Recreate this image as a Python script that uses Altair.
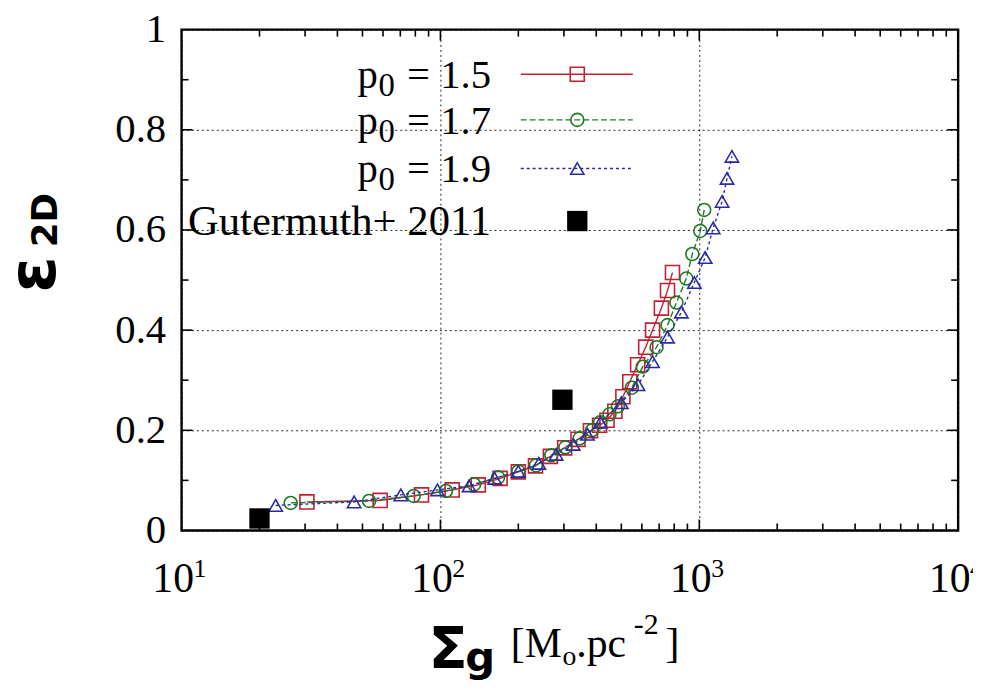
import altair as alt
import pandas as pd

# ---------------- data ----------------
red_x = [30.5, 58.5, 84.5, 111, 140, 170, 200, 233, 266, 302, 340, 380, 412, 440, 472, 507, 539, 578, 621, 660, 714, 754, 788]
red_y = [0.057, 0.060, 0.071, 0.081, 0.091, 0.104, 0.117, 0.129, 0.148, 0.165, 0.182, 0.199, 0.210, 0.220, 0.238, 0.267, 0.297, 0.331, 0.366, 0.400, 0.444, 0.479, 0.515]

green_x = [26.4, 53, 78.8, 105, 135, 167, 200, 234, 268, 304, 345, 385, 414, 450, 485, 549, 605, 684, 754, 816, 891, 940, 1009, 1045]
green_y = [0.055, 0.059, 0.069, 0.079, 0.092, 0.106, 0.118, 0.130, 0.150, 0.166, 0.184, 0.200, 0.216, 0.232, 0.248, 0.285, 0.327, 0.366, 0.410, 0.455, 0.503, 0.552, 0.598, 0.640]

blue_x = [23.1, 46.4, 70.3, 97.4, 129, 162, 200, 240, 280, 326, 370, 415, 500, 580, 660, 754, 853, 957, 1054, 1132, 1225, 1280, 1337]
blue_y = [0.050, 0.057, 0.071, 0.081, 0.089, 0.104, 0.118, 0.134, 0.152, 0.172, 0.192, 0.216, 0.255, 0.291, 0.337, 0.386, 0.436, 0.495, 0.545, 0.604, 0.657, 0.703, 0.747]

obs_x = [20, 296]
obs_y = [0.024, 0.261]

series_labels = ["1.5", "1.7", "1.9"]
obs_label = "Gutermuth+ 2011"

x_ticks = [10, 100, 1000, 10000]
x_exponents = ["1", "2", "3", "4"]
y_ticks = [0, 0.2, 0.4, 0.6, 0.8, 1.0]
x_minor = [20, 30, 40, 50, 60, 70, 80, 90, 200, 300, 400, 500, 600, 700, 800, 900,
           2000, 3000, 4000, 5000, 6000, 7000, 8000, 9000]
y_minor = [0.1, 0.3, 0.5, 0.7, 0.9]

# ---------------- layout / style ----------------
W, H = 783, 505
SERIF = "Liberation Serif"
SANS = "DejaVu Sans"

xscale = alt.Scale(type="log", domain=[10, 10000], nice=False)
yscale = alt.Scale(domain=[0, 1], nice=False)

grid_dash = [2, 3]
x_axis = alt.Axis(values=x_ticks, title=None, ticks=False, domain=False,
                  labelExpr="'10'",
                  labelFont=SERIF, labelFontSize=42, labelColor="black", labelPadding=29,
                  labelOffset=-9,
                  labelFlush=False, labelOverlap=False, labelBound=False,
                  grid=True, gridColor="black", gridDash=grid_dash, gridWidth=1, gridOpacity=0.85)
y_axis = alt.Axis(values=y_ticks, title=None, ticks=False, domain=False,
                  labelExpr="datum.value == 0 ? '0' : datum.value == 1 ? '1' : format(datum.value, '.1f')",
                  labelFont=SERIF, labelFontSize=41, labelColor="black", labelPadding=16,
                  labelOverlap=False, labelBound=False,
                  grid=True, gridColor="black", gridDash=grid_dash, gridWidth=1, gridOpacity=0.85)


def X():
    return alt.X("sigma:Q", scale=xscale, axis=x_axis)


def Y():
    return alt.Y("eps:Q", scale=yscale, axis=y_axis)


styles = [
    dict(color="#c41f33", dash=[1, 0], shape="square", size=200),
    dict(color="#1e7a22", dash=[6, 3], shape="circle", size=170),
    dict(color="#2a2aa8", dash=[3, 3], shape="triangle-up", size=180),
]
series_data = [(red_x, red_y), (green_x, green_y), (blue_x, blue_y)]

layers = []
for (xs, ys), st in zip(series_data, styles):
    d = pd.DataFrame({"sigma": xs, "eps": ys})
    base = alt.Chart(d).encode(x=X(), y=Y())
    layers.append(base.mark_line(color=st["color"], strokeDash=st["dash"], strokeWidth=1.4))
    layers.append(base.mark_point(shape=st["shape"], filled=False, color=st["color"],
                                  size=st["size"], strokeWidth=1.6, opacity=1))

obs = pd.DataFrame({"sigma": obs_x, "eps": obs_y})
layers.append(alt.Chart(obs).mark_point(shape="square", filled=True, color="black", size=420, opacity=1)
              .encode(x=X(), y=Y()))

# superscript exponents of the x tick labels
sup = pd.DataFrame({"sigma": x_ticks, "e": x_exponents})
layers.append(alt.Chart(sup).mark_text(font=SERIF, fontSize=26, align="left", baseline="alphabetic",
                                       dx=12, color="black")
              .encode(x=X(), y=alt.value(H + 47), text="e:N"))

# inward ticks on all four sides
xt = pd.DataFrame({"sigma": x_minor})
xt_major = pd.DataFrame({"sigma": [100, 1000]})
for dd, ln in [(xt, 7), (xt_major, 11)]:
    layers.append(alt.Chart(dd).mark_rule(color="black", strokeWidth=1.6)
                  .encode(x=X(), y=alt.value(H), y2=alt.value(H - ln)))
    layers.append(alt.Chart(dd).mark_rule(color="black", strokeWidth=1.6)
                  .encode(x=X(), y=alt.value(0), y2=alt.value(ln)))
yt = pd.DataFrame({"eps": y_minor})
yt_major = pd.DataFrame({"eps": [0.2, 0.4, 0.6, 0.8]})
for dd, ln in [(yt, 7), (yt_major, 11)]:
    layers.append(alt.Chart(dd).mark_rule(color="black", strokeWidth=1.6)
                  .encode(y=Y(), x=alt.value(0), x2=alt.value(ln)))
    layers.append(alt.Chart(dd).mark_rule(color="black", strokeWidth=1.6)
                  .encode(y=Y(), x=alt.value(W), x2=alt.value(W - ln)))

# ---------------- manual legend ----------------
one = pd.DataFrame({"a": [0]})
row_y = [45, 91, 140, 193]
txt_right = 312
sym_x = 399
line_x0, line_x1 = 342, 455
for i, (lab, st) in enumerate(zip(series_labels, styles)):
    ry = row_y[i]
    layers.append(alt.Chart(one).mark_rule(color=st["color"], strokeDash=st["dash"], strokeWidth=1.4)
                  .encode(x=alt.value(line_x0), x2=alt.value(line_x1), y=alt.value(ry)))
    layers.append(alt.Chart(one).mark_point(shape=st["shape"], filled=False, color=st["color"],
                                            size=st["size"], strokeWidth=1.6, opacity=1)
                  .encode(x=alt.value(sym_x), y=alt.value(ry)))
    layers.append(alt.Chart(one).mark_text(text="= " + lab, font=SERIF, fontSize=41, align="right",
                                           baseline="alphabetic", color="black")
                  .encode(x=alt.value(txt_right), y=alt.value(ry + 14)))
    layers.append(alt.Chart(one).mark_text(text="0", font=SERIF, fontSize=33, align="right",
                                           baseline="alphabetic", color="black")
                  .encode(x=alt.value(txt_right - 97), y=alt.value(ry + 22)))
    layers.append(alt.Chart(one).mark_text(text="p", font=SERIF, fontSize=41, align="right",
                                           baseline="alphabetic", color="black")
                  .encode(x=alt.value(txt_right - 114), y=alt.value(ry + 14)))
ry = row_y[3]
layers.append(alt.Chart(one).mark_point(shape="square", filled=True, color="black", size=420, opacity=1)
              .encode(x=alt.value(sym_x), y=alt.value(ry)))
layers.append(alt.Chart(one).mark_text(text=obs_label, font=SERIF, fontSize=43, align="right",
                                       baseline="alphabetic", color="black")
              .encode(x=alt.value(txt_right), y=alt.value(ry + 14)))


# ---------------- axis titles ----------------
def txt(t, x, y, font, size, weight="normal", angle=0, align="left", baseline="alphabetic"):
    return alt.Chart(one).mark_text(text=t, font=font, fontSize=size, fontWeight=weight, angle=angle,
                                    align=align, baseline=baseline, color="black").encode(
        x=alt.value(x), y=alt.value(y))


# y title: epsilon_2D (rotated)
layers.append(txt("ε", -148, 247, SANS, 66, "bold", 270, "center", "middle"))
layers.append(txt("2D", -137, 192, SANS, 36, "bold", 270, "center", "middle"))
# x title: Sigma_g [M_o.pc^-2]
layers.append(txt("Σ", 249, 644, SANS, 58, "bold"))
layers.append(txt("g", 286, 647, SANS, 42, "bold"))
layers.append(txt("[M", 332, 633, SERIF, 42))
layers.append(txt("o", 384, 641, SERIF, 28))
layers.append(txt(".pc", 398, 633, SERIF, 42))
layers.append(txt("-2", 456, 609, SERIF, 30))
layers.append(txt("]", 488, 633, SERIF, 42))

chart = alt.layer(*layers).properties(
    width=W, height=H,
    autosize="none",
    background="white",
    padding={"left": 175, "top": 19, "right": 15, "bottom": 153},
).configure_view(stroke="black", strokeWidth=2.4)

chart.save("out.html", embed_options={"renderer": "svg", "actions": False})
